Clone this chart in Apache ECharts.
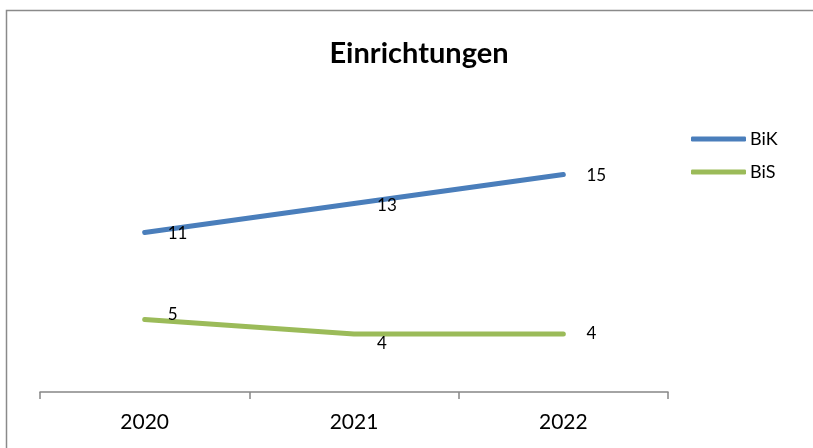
<!DOCTYPE html>
<html>
<head>
<meta charset="utf-8">
<script src="https://cdn.jsdelivr.net/npm/echarts@6/dist/echarts.min.js"></script>
<style>html,body{margin:0;padding:0;background:#fff;}#c{width:813px;height:448px;}</style>
</head>
<body>
<div id="c"></div>
<script>
const categories = ['2020', '2021', '2022'];
const bikValues = [11, 13, 15];
const bisValues = [5, 4, 4];
const seriesNames = ['BiK', 'BiS'];

const FONT = 'Lato, Carlito, Calibri, sans-serif';
// small vertical nudges of the data labels as seen in the reference
const bikNudge = [1, 2, 1];
const bisNudge = [-5, 10, 0];

function withLabels(values, nudges) {
  return values.map((v, i) => ({ value: v, label: { offset: [0, nudges[i]] } }));
}

const labelStyle = { show: true, position: 'right', distance: 23, fontFamily: FONT, fontSize: 17, color: '#000' };

const chart = echarts.init(document.getElementById('c'));
chart.setOption({
  animation: false,
  backgroundColor: '#fff',
  title: {
    text: 'Einrichtungen',
    left: 419,
    textAlign: 'center',
    top: 39,
    padding: 0,
    textStyle: { fontFamily: FONT, fontSize: 29, fontWeight: 'bold', color: '#000' }
  },
  legend: {
    orient: 'vertical',
    left: 691,
    top: 130,
    padding: 0,
    itemWidth: 55,
    itemHeight: 5,
    itemGap: 15,
    icon: 'roundRect',
    textStyle: { fontFamily: FONT, fontSize: 18, color: '#000', padding: [0, 0, 0, -1] },
    data: seriesNames
  },
  grid: { left: 40, right: 145, top: 160, bottom: 56 },
  xAxis: {
    type: 'category',
    data: categories,
    boundaryGap: true,
    axisLine: { lineStyle: { color: '#868686', width: 1.5 } },
    axisTick: { show: true, length: 7, lineStyle: { color: '#868686', width: 1.5 } },
    axisLabel: { fontFamily: FONT, fontSize: 21, color: '#000', margin: 20 }
  },
  yAxis: {
    type: 'value',
    min: 0,
    max: 16,
    interval: 2,
    show: false,
    splitLine: { show: false }
  },
  series: [
    {
      name: seriesNames[0],
      type: 'line',
      data: withLabels(bikValues, bikNudge),
      symbol: 'circle',
      symbolSize: 0.1,
      showSymbol: true,
      lineStyle: { color: '#4A7EBB', width: 5, cap: 'round' },
      itemStyle: { color: '#4A7EBB' },
      label: labelStyle
    },
    {
      name: seriesNames[1],
      type: 'line',
      data: withLabels(bisValues, bisNudge),
      symbol: 'circle',
      symbolSize: 0.1,
      showSymbol: true,
      lineStyle: { color: '#9BBB59', width: 5, cap: 'round' },
      itemStyle: { color: '#9BBB59' },
      label: labelStyle
    }
  ],
  graphic: [
    {
      type: 'rect',
      shape: { x: 6.5, y: 10.5, width: 900, height: 600 },
      style: { fill: 'none', stroke: '#8a8a8a', lineWidth: 1.5 },
      silent: true,
      z: -1
    }
  ]
});
</script>
</body>
</html>
